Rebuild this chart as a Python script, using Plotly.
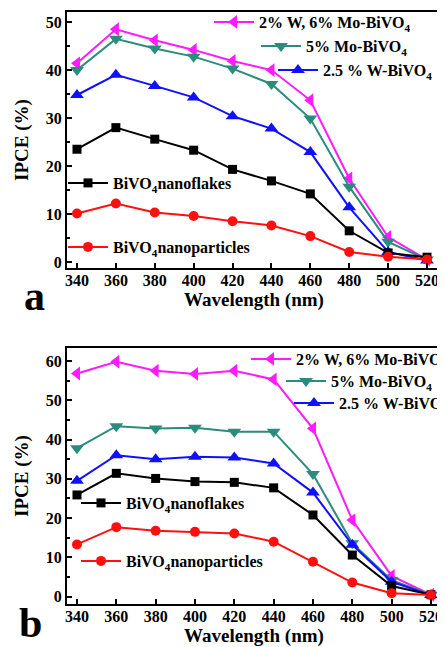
import plotly.graph_objects as go
from plotly.subplots import make_subplots

wavelength = [340, 360, 380, 400, 420, 440, 460, 480, 500, 520]

# Panel a
a_wmo = [41.4, 48.5, 46.2, 44.2, 41.9, 40.0, 33.7, 17.4, 5.2, 0.5]
a_mo = [40.0, 46.5, 44.5, 42.8, 40.3, 37.1, 29.9, 15.7, 4.2, 0.5]
a_w = [34.8, 39.0, 36.7, 34.3, 30.4, 27.8, 22.9, 11.4, 2.1, 0.3]
a_flakes = [23.5, 28.0, 25.6, 23.3, 19.3, 16.9, 14.2, 6.5, 1.9, 1.0]
a_particles = [10.1, 12.2, 10.3, 9.6, 8.5, 7.6, 5.4, 2.1, 1.1, 0.5]

# Panel b
b_wmo = [56.8, 59.8, 57.5, 56.7, 57.5, 55.3, 42.8, 19.5, 5.3, 0.5]
b_mo = [37.8, 43.4, 42.8, 43.0, 42.0, 42.0, 31.2, 13.6, 4.2, 0.5]
b_w = [29.5, 36.0, 35.0, 35.6, 35.4, 33.9, 26.5, 13.2, 3.8, 0.4]
b_flakes = [25.9, 31.4, 30.1, 29.3, 29.1, 27.7, 20.8, 10.6, 2.7, 0.5]
b_particles = [13.3, 17.7, 16.8, 16.5, 16.1, 14.0, 8.9, 3.6, 0.9, 0.4]

names = ["2% W, 6% Mo-BiVO<sub>4</sub>", "5% Mo-BiVO<sub>4</sub>", "2.5 % W-BiVO<sub>4</sub>",
         "BiVO<sub>4</sub>nanoflakes", "BiVO<sub>4</sub>nanoparticles"]
colors = ["#ff1aff", "#2a8c7c", "#1010ff", "#000000", "#ff1010"]
symbols = ["triangle-left", "triangle-down", "triangle-up", "square", "circle"]
msizes = [12, 12, 12, 9, 10]

FONT = "Liberation Serif"
OFF = 8  # default body margin of the page
W, H = 445 - OFF, 647 - OFF
# pixel geometry of the plot area (window coordinates)
X0, X1, Y0, Y1 = 67, 441, 12, 604
ML, MR, MT, MB = X0 - OFF, 445 - X1, Y0 - OFF, 647 - Y1
PW, PH = X1 - X0, Y1 - Y0

def px(x):
    return (x - X0) / PW

def py(y):
    return (Y1 - y) / PH

fig = make_subplots(rows=2, cols=1, vertical_spacing=0.0)

# legend positions (line start x, centre y) in window pixels
leg_pos = {
    1: [(218, 22), (265, 46), (282, 70), (72, 183), (72, 247)],
    2: [(255, 359), (290, 381), (298, 403), (85, 503), (85, 561)],
}

panels = {1: [a_wmo, a_mo, a_w, a_flakes, a_particles],
          2: [b_wmo, b_mo, b_w, b_flakes, b_particles]}

legends = {}
k = 0
for row in (1, 2):
    for i, ys in enumerate(panels[row]):
        k += 1
        lname = "legend" if k == 1 else f"legend{k}"
        fig.add_trace(go.Scatter(
            x=wavelength, y=ys, mode="lines+markers", name=names[i],
            line=dict(color=colors[i], width=2),
            marker=dict(symbol=symbols[i], size=msizes[i], color=colors[i]),
            legend=lname, showlegend=True,
        ), row=row, col=1)
        lx, ly = leg_pos[row][i]
        legends[lname] = dict(
            x=px(lx - 9), y=py(ly), xanchor="left", yanchor="middle",
            bgcolor="rgba(0,0,0,0)", borderwidth=0, itemwidth=40,
            font=dict(family=FONT, size=16, color="black", weight="bold"),
            tracegroupgap=0,
        )

tick_font = dict(family=FONT, size=16, color="black", weight="bold")
axis_common = dict(
    showline=True, linecolor="black", linewidth=2, mirror=True,
    ticks="inside", ticklen=5, tickwidth=1.5, tickcolor="black",
    showgrid=False, zeroline=False, tickfont=tick_font,
)

fig.update_xaxes(**axis_common, tickvals=wavelength, ticklabelstandoff=-3)
fig.update_xaxes(range=[334.86, 527.2], row=1, col=1)
fig.update_xaxes(range=[334.92, 525.1], row=2, col=1)
fig.update_yaxes(**axis_common, dtick=10, tick0=0,
                 minor=dict(ticks="inside", ticklen=3, tickwidth=1.5, tickcolor="black", dtick=5))
fig.update_yaxes(range=[-1.25, 52.1], row=1, col=1)
fig.update_yaxes(range=[-1.86, 63.3], row=2, col=1)

title_font = dict(family=FONT, size=19, color="black", weight="bold")
fig.update_xaxes(title=dict(text="Wavelength (nm)", font=title_font, standoff=4))
fig.update_yaxes(title=dict(text="IPCE (%)", font=title_font, standoff=12))

fig.update_layout(
    width=W, height=H,
    font=dict(family=FONT, color="black"),
    margin=dict(l=ML, r=MR, t=MT, b=MB, autoexpand=False),
    paper_bgcolor="white", plot_bgcolor="white",
    xaxis=dict(domain=[0, 1]), yaxis=dict(domain=[py(268), 1.0]),
    xaxis2=dict(domain=[0, 1]), yaxis2=dict(domain=[0, py(348)]),
    **legends,
)

for letter, (lx, ly) in (("a", (34, 296)), ("b", (30, 623))):
    fig.add_annotation(text=letter, x=px(lx), y=py(ly), xref="paper", yref="paper",
                       showarrow=False, xanchor="center", yanchor="middle",
                       font=dict(family=FONT, size=42, color="black", weight="bold"))

fig.write_html("out.html")
